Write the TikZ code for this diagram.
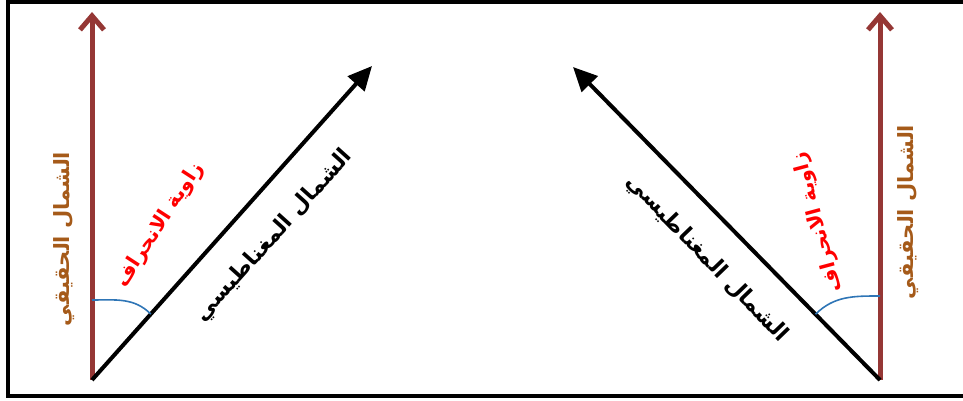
\documentclass[tikz,border=0pt]{standalone}
\usepackage{fontspec}
\newfontfamily\arabicfont[Script=Arabic]{DejaVu Sans}
\TeXXeTstate=1
\usetikzlibrary{arrows.meta, calc}
\definecolor{truered}{RGB}{149, 55, 53}
\definecolor{truebrown}{RGB}{165, 90, 25}
\definecolor{arcblue}{RGB}{46, 117, 182}

\begin{document}
\begin{tikzpicture}[
    x=1pt, y=1pt,
    truenorth/.style={-{Straight Barb[length=14pt, width=24pt]},
                      line width=5pt, color=truered},
    magnorth/.style={-{Triangle[length=24pt, width=22pt]}, line width=4pt},
    anglearc/.style={line width=1.6pt, color=arcblue},
    tnlbl/.style={font=\arabicfont\bfseries\fontsize{21}{24}\selectfont,
                  color=truebrown, inner sep=0pt},
    mnlbl/.style={font=\arabicfont\bfseries\fontsize{22}{25}\selectfont,
                  inner sep=0pt},
    anglbl/.style={font=\arabicfont\bfseries\fontsize{20}{23}\selectfont,
                   color=red, inner sep=0pt},
]
    \useasboundingbox (0,0) rectangle (963,400);
    \draw[line width=4pt] (8,4) rectangle (975,397.5);

    \coordinate (lo) at (92,20);
    \coordinate (ltn) at (92,388);
    \coordinate (lmn) at (372,334);
    \coordinate (ro) at (880,20);
    \coordinate (rtn) at (880,388);
    \coordinate (rmn) at (573,333);

    \draw[truenorth] (lo) -- (ltn);
    \draw[magnorth] (lo) -- (lmn);
    \draw[truenorth] (ro) -- (rtn);
    \draw[magnorth] (ro) -- (rmn);

    \coordinate (la1) at (92,100);
    \coordinate (la2) at ($(lo)!0.21!(lmn)$);
    \coordinate (ra1) at (880,104);
    \coordinate (ra2) at ($(ro)!0.21!(rmn)$);
    \draw[anglearc] (la1) to[out=0, in=135] (la2);
    \draw[anglearc] (ra1) to[out=180, in=45] (ra2);

    \node[tnlbl, rotate=90] (ltnl) at (64,161) {\beginR الشمال الحقيقي\endR};
    \node[tnlbl, rotate=90] (rtnl) at (908,188) {\beginR الشمال الحقيقي\endR};
    \node[mnlbl, rotate=48] (lmnl) at (274,164) {\beginR الشمال المغناطيسي\endR};
    \node[mnlbl, rotate=-46] (rmnl) at (707,141) {\beginR الشمال المغناطيسي\endR};
    \node[anglbl, rotate=57] (lang) at (160,175) {\beginR زاوية الانحراف\endR};
    \node[anglbl, rotate=105] (rang) at (818,178) {\beginR زاوية الانحراف\endR};
\end{tikzpicture}
\end{document}
